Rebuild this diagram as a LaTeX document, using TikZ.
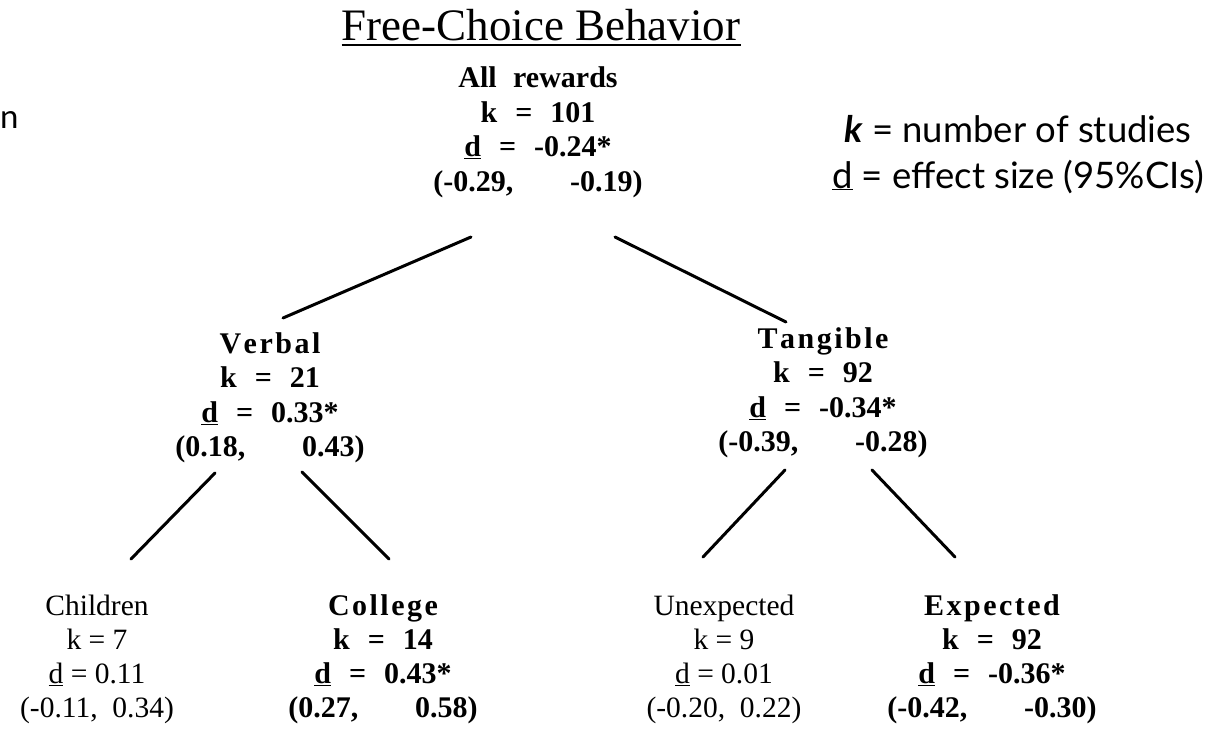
\documentclass[tikz,border=0pt]{standalone}
\usepackage{fontspec}
\setmainfont{Liberation Serif}
\newfontfamily\legfont{Lato}
\def\spaced#1{\spacedA#1\relax}
\def\spacedA#1{\ifx#1\relax\unkern\else#1\kern2.5pt\expandafter\spacedA\fi}
\newcommand\gp{\hspace{0.6em}}
\newcommand\cigp{\hspace{1.9em}}
\begin{document}
\begin{tikzpicture}[x=1pt,y=-1pt,
  blk/.style={align=center, inner sep=0pt, font=\bfseries\fontsize{30}{34.5}\selectfont},
  leaf/.style={align=center, inner sep=0pt, font=\fontsize{29.5}{34}\selectfont},
  legtext/.style={inner sep=0pt, anchor=base, font=\legfont\fontsize{36.5}{40}\selectfont},
  edge/.style={line width=3pt, line cap=round}]
\useasboundingbox[fill=white] (0,0) rectangle (1220,729);

% title
\node[inner sep=0pt, anchor=base, font=\fontsize{45}{50}\selectfont] (title) at (541,40) {Free-Choice Behavior};
\draw[line width=2pt] ([yshift=-4.5pt]title.base west) -- ([yshift=-4.5pt]title.base east);

% text fragment at left edge
\node[inner sep=0pt, anchor=base west, font=\legfont\fontsize{33}{33}\selectfont] (cut) at (0,128) {n};

% legend
\node[legtext] (legk) at (1018,142) {{\bfseries\itshape k} = number of studies};
\node[legtext] (legd) at (1018,188) {\underline{d} = effect size (95\%CIs)};

% blocks
\node[blk] (all) at (538,132.5) {All\hspace{0.55em}rewards\\k\gp=\gp101\\\underline{d}\gp=\gp-0.24*\\(-0.29,\cigp-0.19)};
\node[blk] (verbal) at (270,398) {\spaced{Verbal}\\k\gp=\gp21\\\underline{d}\gp=\gp0.33*\\(0.18,\cigp0.43)};
\node[blk] (tangible) at (823,393) {\spaced{Tangible}\\k\gp=\gp92\\\underline{d}\gp=\gp-0.34*\\(-0.39,\cigp-0.28)};
\node[leaf] (children) at (97,659) {Children\\k = 7\\\underline{d} = 0.11\\(-0.11,\ \ 0.34)};
\node[blk, font=\bfseries\fontsize{30}{34}\selectfont] (college) at (383,659) {\spaced{College}\\k\gp=\gp14\\\underline{d}\gp=\gp0.43*\\(0.27,\cigp0.58)};
\node[leaf] (unexpected) at (724,659) {Unexpected\\k = 9\\\underline{d} = 0.01\\(-0.20,\ \ 0.22)};
\node[blk, font=\bfseries\fontsize{30}{34}\selectfont] (expected) at (992,659) {\spaced{Expected}\\k\gp=\gp92\\\underline{d}\gp=\gp-0.36*\\(-0.42,\cigp-0.30)};

% connector end points
\coordinate (allL) at (471,237);
\coordinate (allR) at (615,237);
\coordinate (verbalT) at (283,318);
\coordinate (tangibleT) at (786,322);
\coordinate (verbalL) at (215,473);
\coordinate (verbalR) at (302,472);
\coordinate (childrenT) at (131,559);
\coordinate (collegeT) at (389,559);
\coordinate (tangibleL) at (785,470);
\coordinate (tangibleR) at (872,470);
\coordinate (unexpectedT) at (703,557);
\coordinate (expectedT) at (955,557);

\draw[edge] (allL) -- (verbalT);
\draw[edge] (allR) -- (tangibleT);
\draw[edge] (verbalL) -- (childrenT);
\draw[edge] (verbalR) -- (collegeT);
\draw[edge] (tangibleL) -- (unexpectedT);
\draw[edge] (tangibleR) -- (expectedT);
\end{tikzpicture}
\end{document}
